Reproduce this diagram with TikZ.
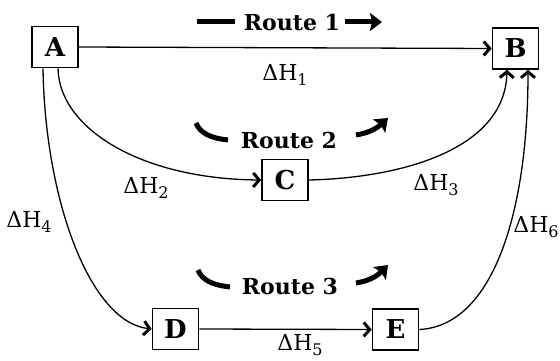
\documentclass[tikz,border=0pt]{standalone}
\usepackage{fontspec}
\newfontfamily\boldserif{DejaVu Serif}
\newfontfamily\labelserif{DejaVu Serif}
\usetikzlibrary{arrows.meta}
\newcommand{\dH}[1]{ΔH\raisebox{-4.5pt}{\fontsize{16}{16}\selectfont #1}}
\tikzset{
  statebox/.style={draw, line width=1.6pt, minimum width=46pt, minimum height=41pt,
    inner sep=0pt, font=\boldserif\bfseries\fontsize{26}{26}\selectfont},
  conn/.style={line width=1.3pt, -{Straight Barb[length=6pt,width=14pt,line width=3pt]}},
  dh/.style={inner sep=0pt, font=\labelserif\fontsize{22}{22}\selectfont},
  routelbl/.style={font=\boldserif\bfseries\fontsize{22}{22}\selectfont, inner sep=0pt},
  routebar/.style={line width=5pt},
  routearrow/.style={line width=5pt, -{Stealth[length=12pt,width=18pt,inset=2pt]}},
}
\begin{document}
\begin{tikzpicture}[x=1pt,y=-1pt]
\useasboundingbox (0,0) rectangle (560,361);

% state boxes
\node[statebox] (A) at (55,47) {A};
\node[statebox] (B) at (515.5,48.5) {B};
\node[statebox] (C) at (285,180) {C};
\node[statebox] (D) at (175.5,329) {D};
\node[statebox] (E) at (395.5,329.5) {E};

% attachment points on the box edges
\coordinate (Aout2) at ([xshift=3pt]A.south);
\coordinate (Aout4) at ([xshift=-12pt]A.south);
\coordinate (Bin3) at ([xshift=-8.5pt]B.south);
\coordinate (Bin6) at ([xshift=12.5pt]B.south);

% route 1
\draw[conn] (A.east) -- (B.west);
% route 2
\draw[conn] (Aout2) .. controls (59,128) and (140,179) .. (C.west);
\draw[conn] (C.east) .. controls (400,178) and (505,150) .. (Bin3);
% route 3
\draw[conn] (Aout4) .. controls (45,200) and (90,322) .. (D.west);
\draw[conn] (D.east) -- (E.west);
\draw[conn] (E.east) .. controls (492,326) and (528,215) .. (Bin6);

% enthalpy labels
\node[dh] (h1) at (285,75) {\dH{1}};
\node[dh] (h2) at (146,188) {\dH{2}};
\node[dh] (h3) at (436,185) {\dH{3}};
\node[dh] (h4) at (29,222) {\dH{4}};
\node[dh] (h5) at (300,345) {\dH{5}};
\node[dh] (h6) at (536,227) {\dH{6}};

% route captions with their bold markers
\node[routelbl] (r1) at (292,22) {Route 1};
\draw[routebar] (197,22) -- (235,22);
\draw[routearrow] (345,22) -- (382,22);

\node[routelbl] (r2) at (289,140) {Route 2};
\draw[routebar] (196,123) .. controls (200,133) and (210,138) .. (228,140);
\draw[routearrow] (356,135) .. controls (368,133) and (376,129) .. (388,118);

\node[routelbl] (r3) at (290,286) {Route 3};
\draw[routebar] (198,270) .. controls (202,280) and (212,285) .. (230,287);
\draw[routearrow] (356,283) .. controls (368,281) and (376,277) .. (388,265);
\end{tikzpicture}
\end{document}
